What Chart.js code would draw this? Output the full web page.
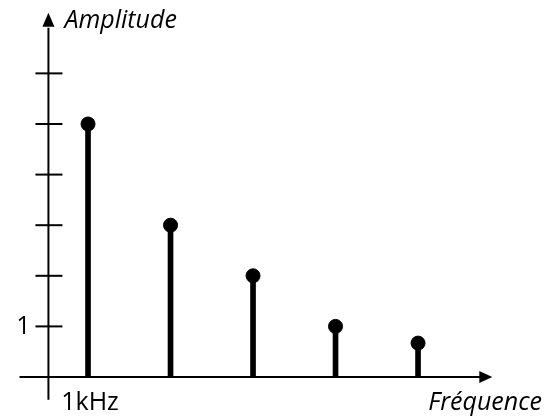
<!DOCTYPE html>
<html>
<head>
<meta charset="utf-8">
<script src="https://cdn.jsdelivr.net/npm/chart.js@4"></script>
<style>
html,body{margin:0;padding:0;background:#fff;}
#wrap{width:545px;height:418px;position:relative;}
</style>
</head>
<body>
<div id="wrap"><canvas id="c" width="545" height="418"></canvas></div>
<script>
// frequencies in kHz, amplitudes
const freqs = [1, 2, 3, 4, 5];
const amps = [5, 3, 2, 1, 0.67];
const yTicks = [1, 2, 3, 4, 5, 6];
const yTickLabels = ["1"];
const xTickLabels = ["1kHz"];

const FONT = '"Open Sans", "Liberation Sans", sans-serif';

// axes with arrows, crossing tick marks, and text
const axesPlugin = {
  id: "axes",
  beforeDatasetsDraw(chart){
    const ctx = chart.ctx, xs = chart.scales.x, ys = chart.scales.y;
    const x0 = xs.getPixelForValue(0.52);
    const y0 = ys.getPixelForValue(0);
    ctx.save();
    ctx.strokeStyle = "#000";
    ctx.fillStyle = "#000";
    ctx.lineWidth = 2;
    // x axis
    ctx.beginPath();
    ctx.moveTo(xs.getPixelForValue(0.17), y0);
    ctx.lineTo(xs.getPixelForValue(5.8), y0);
    ctx.stroke();
    let xe = xs.getPixelForValue(5.9);
    ctx.beginPath();
    ctx.moveTo(xe, y0);
    ctx.lineTo(xe - 13, y0 - 6);
    ctx.lineTo(xe - 13, y0 + 6);
    ctx.closePath();
    ctx.fill();
    // y axis
    ctx.beginPath();
    ctx.moveTo(x0, ys.getPixelForValue(-0.45));
    ctx.lineTo(x0, ys.getPixelForValue(6.9));
    ctx.stroke();
    let ye = ys.getPixelForValue(7.2);
    ctx.beginPath();
    ctx.moveTo(x0, ye);
    ctx.lineTo(x0 - 6, ye + 14);
    ctx.lineTo(x0 + 6, ye + 14);
    ctx.closePath();
    ctx.fill();
    // tick marks
    yTicks.forEach(v => {
      const y = ys.getPixelForValue(v);
      ctx.beginPath();
      ctx.moveTo(x0 - 13, y);
      ctx.lineTo(x0 + 14, y);
      ctx.stroke();
    });
    // labels
    ctx.font = "25px " + FONT;
    ctx.textBaseline = "middle";
    ctx.textAlign = "right";
    yTickLabels.forEach((t, i) => {
      ctx.fillText(t, x0 - 18, ys.getPixelForValue(yTicks[i]));
    });
    ctx.textAlign = "center";
    xTickLabels.forEach((t, i) => {
      ctx.fillText(t, xs.getPixelForValue(freqs[i]) + 2, y0 + 26);
    });
    ctx.font = "italic 25px " + FONT;
    ctx.textAlign = "left";
    ctx.fillText("Amplitude", x0 + 16, ys.getPixelForValue(7.03));
    ctx.textAlign = "right";
    ctx.fillText("Fréquence", 542, y0 + 26);
    ctx.restore();
  }
};

new Chart(document.getElementById("c"), {
  data: {
    datasets: [
      {
        type: "bar",
        data: freqs.map((f, i) => ({x: f, y: amps[i]})),
        backgroundColor: "#000",
        barThickness: 5,
        borderWidth: 0
      },
      {
        type: "scatter",
        data: freqs.map((f, i) => ({x: f, y: amps[i]})),
        backgroundColor: "#000",
        borderColor: "#000",
        pointRadius: 7,
        pointHoverRadius: 7
      }
    ]
  },
  options: {
    responsive: false,
    animation: false,
    events: [],
    layout: {padding: 0, autoPadding: false},
    plugins: {legend: {display: false}, tooltip: {enabled: false}},
    scales: {
      x: {type: "linear", min: -0.067, max: 6.539, display: false, offset: false},
      y: {type: "linear", min: -0.81, max: 7.45, display: false}
    }
  },
  plugins: [axesPlugin]
});
</script>
</body>
</html>
